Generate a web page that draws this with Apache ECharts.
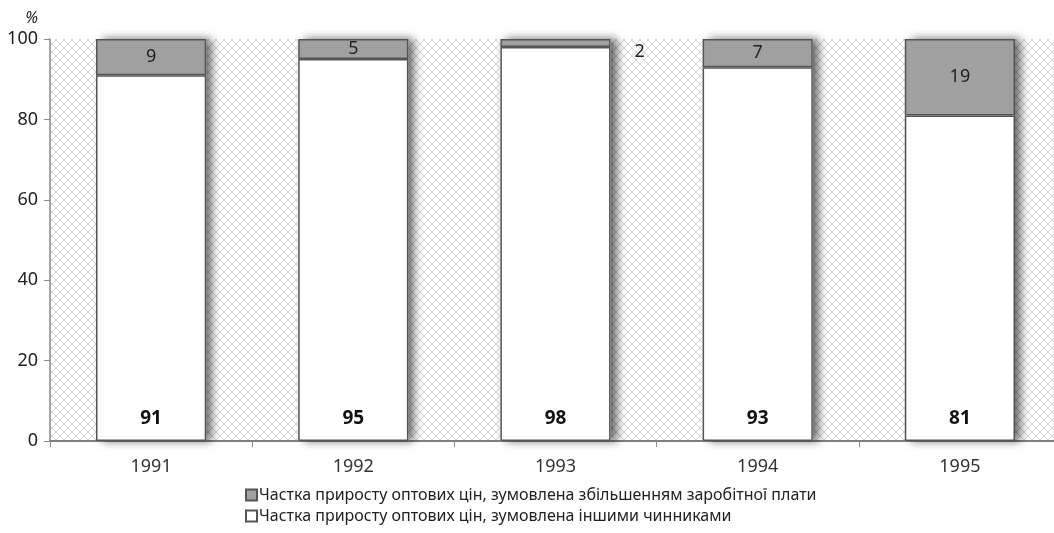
<!DOCTYPE html>
<html>
<head>
<meta charset="utf-8">
<script src="https://cdn.jsdelivr.net/npm/echarts@6/dist/echarts.min.js"></script>
<style>
  html, body { margin: 0; padding: 0; background: #fff; }
  #chart { width: 1054px; height: 533px; }
</style>
</head>
<body>
<div id="chart"></div>
<script>
// Years on the category axis
const years = ['1991', '1992', '1993', '1994', '1995'];
// Share of wholesale price growth caused by wage increases, %
const wageShare = [9, 5, 2, 7, 19];
// Share of wholesale price growth caused by other factors, %
const otherShare = [91, 95, 98, 93, 81];
// Value-axis ticks
const yTicks = [0, 20, 40, 60, 80, 100];

const wageName = 'Частка приросту оптових цін, зумовлена збільшенням заробітної плати';
const otherName = 'Частка приросту оптових цін, зумовлена іншими чинниками';

// Full column height, used for the drop shadow behind each column
const columnTotal = otherShare.map((v, i) => v + wageShare[i]);

const FONT = 'Noto Sans, DejaVu Sans, sans-serif';

// Light diagonal lattice used as plot background
function makeLattice() {
  const c = document.createElement('canvas');
  c.width = 8; c.height = 8;
  const g = c.getContext('2d');
  g.fillStyle = '#ffffff';
  g.fillRect(0, 0, 8, 8);
  g.strokeStyle = '#d4d4d4';
  g.lineWidth = 1;
  g.beginPath();
  g.moveTo(0, 0); g.lineTo(8, 8);
  g.moveTo(8, 0); g.lineTo(0, 8);
  g.stroke();
  return c;
}

const chart = echarts.init(document.getElementById('chart'), null, { renderer: 'canvas' });

const BAR_W = '54.5%';

chart.setOption({
  animation: false,
  backgroundColor: '#ffffff',
  grid: {
    left: 50, top: 39, width: 1011, height: 402,
    outerBoundsMode: 'none',
    containLabel: false,
    show: true,
    backgroundColor: { image: makeLattice(), repeat: 'repeat' },
    borderWidth: 0
  },
  legend: {
    orient: 'vertical',
    left: 240, top: 482,
    itemWidth: 11, itemHeight: 11, itemGap: 5,
    icon: 'rect',
    data: [wageName, otherName],
    textStyle: { fontFamily: FONT, fontSize: 16, color: '#222', padding: [0, 0, 0, -3] }
  },
  xAxis: {
    type: 'category',
    data: years,
    axisLine: { show: true, lineStyle: { color: '#7f7f7f', width: 2 } },
    axisTick: { show: true, alignWithLabel: false, length: 6, lineStyle: { color: '#8a8a8a', width: 1 } },
    axisLabel: { fontFamily: FONT, fontSize: 18, color: '#333', margin: 17 },
    splitLine: { show: false }
  },
  yAxis: {
    type: 'value',
    min: yTicks[0], max: yTicks[yTicks.length - 1], interval: 20,
    name: '%',
    nameLocation: 'end',
    nameGap: 13,
    nameTextStyle: { fontFamily: FONT, fontSize: 16, fontStyle: 'italic', color: '#222', align: 'right', padding: [0, 12, 0, 0] },
    axisLine: { show: true, lineStyle: { color: '#8a8a8a', width: 1.5 } },
    axisTick: { show: true, length: 6, lineStyle: { color: '#8a8a8a' } },
    axisLabel: { fontFamily: FONT, fontSize: 18, color: '#222', margin: 12 },
    splitLine: { show: false }
  },
  series: [
    {
      // soft shadow cast to the right of every column
      type: 'bar',
      barWidth: BAR_W,
      barGap: '-100%',
      data: columnTotal,
      silent: true,
      z: 1,
      itemStyle: {
        color: '#ffffff',
        shadowColor: 'rgba(0,0,0,0.6)',
        shadowBlur: 9,
        shadowOffsetX: 6,
        shadowOffsetY: 0
      },
      label: { show: false },
      tooltip: { show: false }
    },
    {
      name: otherName,
      type: 'bar',
      stack: 'total',
      barWidth: BAR_W,
      z: 2,
      data: otherShare,
      itemStyle: { color: '#ffffff', borderColor: '#555555', borderWidth: 1.5 },
      label: {
        show: true,
        position: 'insideBottom',
        distance: 13,
        fontFamily: FONT, fontSize: 19, fontWeight: 'bold', color: '#111'
      }
    },
    {
      name: wageName,
      type: 'bar',
      stack: 'total',
      z: 2,
      data: wageShare.map((v) => {
        if (v < 4) {
          return {
            value: v,
            label: { position: 'right', distance: 24, offset: [0, 9] }
          };
        }
        return v;
      }),
      itemStyle: { color: '#a0a0a0', borderColor: '#555555', borderWidth: 1.5 },
      label: {
        show: true,
        position: 'inside',
        fontFamily: FONT, fontSize: 18, color: '#222'
      }
    }
  ]
});
</script>
</body>
</html>
